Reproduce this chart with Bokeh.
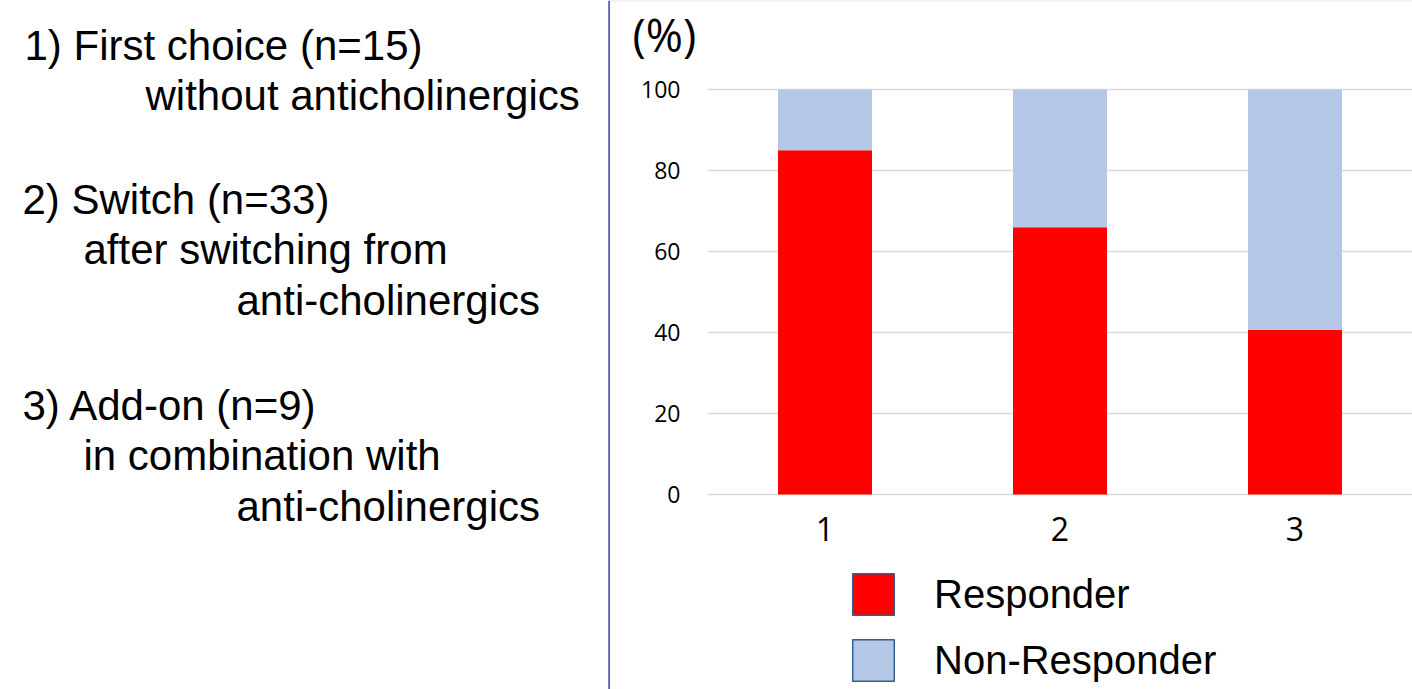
from bokeh.plotting import figure
from bokeh.layouts import row
from bokeh.models import Range1d, Legend, LegendItem, ColumnDataSource
from bokeh.core.properties import value
from bokeh.embed import file_html
from bokeh.resources import INLINE

# ---- data ----
groups = [1, 2, 3]
group_labels = ["1", "2", "3"]
responder = [85, 66, 40.7]
non_responder = [15, 34, 59.3]
series_names = ["Responder", "Non-Responder"]
series_colors = ["#FF0000", "#B4C7E7"]
y_ticks = [0, 20, 40, 60, 80, 100]
y_tick_labels = ["0", "20", "40", "60", "80", "100"]
unit_text = "(%)"

desc_lines = [
    "1) First choice (n=15)",
    "without anticholinergics",
    "2) Switch (n=33)",
    "after switching from",
    "anti-cholinergics",
    "3) Add-on (n=9)",
    "in combination with",
    "anti-cholinergics",
]

# ---- layout constants (pixels) ----
TOTAL_W, TOTAL_H = 1412, 689
LEFT_W = 610                      # left text panel width
RIGHT_W = TOTAL_W - LEFT_W
PLOT_LEFT_PX = 707 - LEFT_W       # left edge of the bar area inside right panel
PX_PER_GROUP = 235
ZERO_PX, HUNDRED_PX = 494, 89     # vertical pixel positions of 0 and 100
px_per_unit = (ZERO_PX - HUNDRED_PX) / 100.0

desc_x = [24, 145, 22, 83, 236, 22, 83, 236]
desc_y = [45, 95, 199, 249, 300, 405, 455, 506]

# ---- left panel: description text ----
left = figure(width=LEFT_W, height=TOTAL_H, output_backend="svg", toolbar_location=None,
              x_range=Range1d(0, LEFT_W), y_range=Range1d(TOTAL_H, 0),
              x_axis_type=None, y_axis_type=None, min_border=0)
left.grid.visible = False
left.outline_line_color = None
left.text(x=desc_x, y=desc_y, text=desc_lines, text_font=value("Liberation Sans"),
          text_font_size="42px", text_color="#000000", text_baseline="alphabetic",
          text_align="left")
left.segment(x0=[LEFT_W - 1], y0=[0], x1=[LEFT_W - 1], y1=[TOTAL_H],
             line_color="#5656B4", line_width=2.5)

# ---- right panel: stacked bar chart ----
x_start = 0.5 - PLOT_LEFT_PX / PX_PER_GROUP
x_end = 0.5 + (RIGHT_W - PLOT_LEFT_PX) / PX_PER_GROUP
y_end = 100 + HUNDRED_PX / px_per_unit
y_start = -(TOTAL_H - ZERO_PX) / px_per_unit

p = figure(width=RIGHT_W, height=TOTAL_H, output_backend="svg", toolbar_location=None,
           x_range=Range1d(x_start, x_end), y_range=Range1d(y_start, y_end),
           x_axis_type=None, y_axis_type=None, min_border=0)
p.outline_line_color = None
p.grid.visible = False

# faint top border line of the chart panel
p.segment(x0=[x_start], x1=[x_end], y0=[y_end], y1=[y_end], line_color="#E4E4EE", line_width=2)

# horizontal gridlines across the bar area only
p.segment(x0=[0.5] * len(y_ticks), x1=[x_end] * len(y_ticks), y0=y_ticks, y1=y_ticks,
          line_color="#D9D9D9", line_width=1.5)

src = ColumnDataSource(dict(x=groups, Responder=responder, **{"Non-Responder": non_responder}))
p.vbar_stack(series_names, x="x", width=0.4, color=series_colors, line_color=None, source=src)

# y tick labels
p.text(x=[0.5] * len(y_ticks), y=y_ticks, text=y_tick_labels, x_offset=-27,
       text_font=value("Open Sans"), text_font_size="23px", text_color="#000000",
       text_align="right", text_baseline="middle")
# x category labels
p.text(x=groups, y=[0] * len(groups), text=group_labels, y_offset=34,
       text_font=value("Open Sans"), text_font_size="32px", text_color="#000000",
       text_align="center", text_baseline="alphabetic")
# unit label
p.text(x=[0.5], y=[100], text=[unit_text], x_offset=-75, y_offset=-55,
       text_font=value("Open Sans"), text_font_size="45px", text_color="#000000",
       text_align="left", text_baseline="alphabetic")

# legend swatches (renderers with a single empty point so the legend can draw them)
nan = float("nan")
r_resp = p.vbar(x=[nan], top=[nan], width=0.4, fill_color=series_colors[0],
                line_color="#385D8A", line_width=1.5)
r_non = p.vbar(x=[nan], top=[nan], width=0.4, fill_color=series_colors[1],
               line_color="#385D8A", line_width=1.5)
GLYPH = 52   # legend draws the swatch at 80% of the glyph box -> ~42px squares
legend = Legend(items=[LegendItem(label=series_names[0], renderers=[r_resp], index=0),
                       LegendItem(label=series_names[1], renderers=[r_non], index=0)],
                location=(237, 3), orientation="vertical",
                glyph_width=GLYPH, glyph_height=GLYPH, label_standoff=35, spacing=14,
                padding=0, margin=0, border_line_color=None, background_fill_alpha=0,
                label_text_font="Liberation Sans", label_text_font_size="40px",
                label_text_color="#000000")
p.add_layout(legend, "center")

layout = row(left, p)
open("out.html", "w").write(file_html(layout, INLINE))
